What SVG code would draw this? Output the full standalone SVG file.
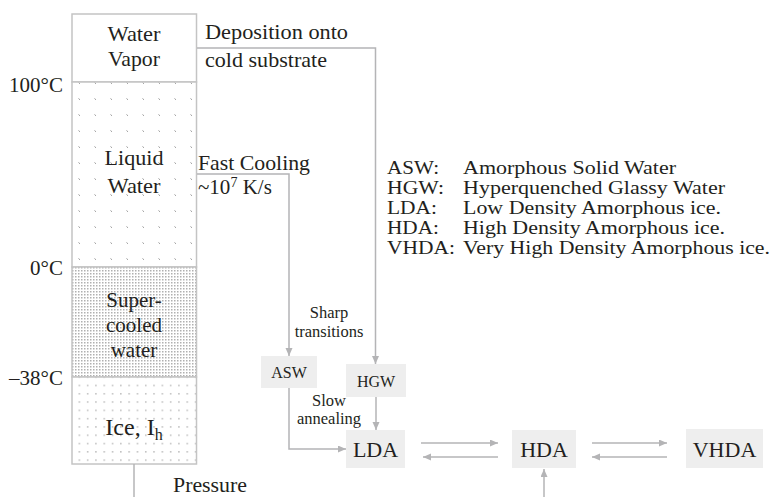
<svg xmlns="http://www.w3.org/2000/svg" width="773" height="497" viewBox="0 0 773 497">
<defs>
<style>
text{font-family:"Liberation Serif","Times New Roman",serif;fill:#231f20}
.m{font-size:21px}
.lg{font-size:19px}
.sm{font-size:16.5px}
.bx{font-size:16px;text-anchor:middle}
.bg{font-size:22px;text-anchor:middle}
.c{text-anchor:middle}
.r{text-anchor:end}
.node{fill:#eeeeee;stroke:none}
.col{stroke:#c4c4c4;stroke-width:1.5}
.con{fill:none;stroke:#b4b4b6;stroke-width:1.5}
.ar{marker-end:url(#ah)}
</style>
<marker id="ah" markerUnits="userSpaceOnUse" markerWidth="9" markerHeight="8" refX="8" refY="3.5" orient="auto">
<path d="M0,0 L8,3.5 L0,7 z" fill="#b4b4b6"/>
</marker>
<pattern id="pLiq" patternUnits="userSpaceOnUse" width="16" height="16" x="0" y="0">
<rect width="16" height="16" fill="#ffffff"/>
<path d="M14.5,2.5 L16,3.8" stroke="#9a9a9a" stroke-width="1"/>
</pattern>
<pattern id="pSup" patternUnits="userSpaceOnUse" width="3" height="3">
<rect width="3" height="3" fill="#ffffff"/>
<rect x="0" y="0" width="1.5" height="1.5" fill="#b0b0b0"/>
</pattern>
<pattern id="pIce" patternUnits="userSpaceOnUse" width="8.3" height="8.3" x="2" y="1">
<rect width="8.3" height="8.3" fill="#ffffff"/>
<rect x="2" y="2" width="1.3" height="1.3" fill="#a6a6a6"/>
</pattern>
</defs>

<g id="column">
<g id="vapor">
<rect x="72" y="14" width="124.5" height="68" fill="#ffffff" class="col"/>
<text class="m c" x="134" y="41" textLength="53" lengthAdjust="spacingAndGlyphs">Water</text>
<text class="m c" x="134" y="66" textLength="52" lengthAdjust="spacingAndGlyphs">Vapor</text>
</g>
<g id="liquid">
<rect x="72" y="82" width="124.5" height="185" fill="url(#pLiq)" class="col"/>
<text class="m c" x="134" y="165" textLength="59" lengthAdjust="spacingAndGlyphs">Liquid</text>
<text class="m c" x="134" y="193" textLength="53" lengthAdjust="spacingAndGlyphs">Water</text>
</g>
<g id="supercooled">
<rect x="72" y="267" width="124.5" height="110" fill="url(#pSup)" class="col"/>
<text class="m c" x="134" y="307">Super-</text>
<text class="m c" x="134" y="332">cooled</text>
<text class="m c" x="134" y="357">water</text>
</g>
<g id="ice">
<rect x="72" y="377" width="124.5" height="87" fill="url(#pIce)" class="col"/>
<text class="c" x="134" y="435" style="font-size:24px">Ice, I<tspan style="font-size:16px" dy="5">h</tspan></text>
</g>
</g>

<g id="temps">
<text class="m r" x="63" y="92">100°C</text>
<text class="m r" x="63" y="275">0°C</text>
<text class="m r" x="63" y="385">–38°C</text>
</g>

<g id="connectors">
<path class="con ar" d="M197,48 H375.5 V364"/>
<path class="con ar" d="M197,174 H289 V356"/>
<path class="con ar" d="M376,397 V430"/>
<path class="con ar" d="M289,388 V449 H346"/>
<path class="con ar" d="M421,443 H498"/>
<path class="con ar" d="M498,457 H423"/>
<path class="con ar" d="M592,443 H667"/>
<path class="con ar" d="M667,457 H592"/>
<path class="con ar" d="M544,497 V469"/>
<path class="con" d="M134,464 V497"/>
</g>

<g id="labels">
<text class="m" x="205" y="39" textLength="143" lengthAdjust="spacingAndGlyphs">Deposition onto</text>
<text class="m" x="205" y="67" textLength="122" lengthAdjust="spacingAndGlyphs">cold substrate</text>
<text class="m" x="198" y="170" textLength="112" lengthAdjust="spacingAndGlyphs">Fast Cooling</text>
<text class="m" x="198" y="194">~10<tspan style="font-size:14px" dy="-7">7</tspan><tspan dy="7"> K/s</tspan></text>
<text class="sm c" x="329" y="318">Sharp</text>
<text class="sm c" x="329" y="337">transitions</text>
<text class="sm c" x="329" y="406">Slow</text>
<text class="sm c" x="329" y="424">annealing</text>
<text class="m" x="173" y="492" textLength="74" lengthAdjust="spacingAndGlyphs">Pressure</text>
</g>

<g id="legend">
<text class="lg" x="387" y="174" textLength="52" lengthAdjust="spacingAndGlyphs">ASW:</text><text class="lg" x="463" y="174" textLength="213" lengthAdjust="spacingAndGlyphs">Amorphous Solid Water</text>
<text class="lg" x="387" y="194" textLength="57" lengthAdjust="spacingAndGlyphs">HGW:</text><text class="lg" x="463" y="194" textLength="262" lengthAdjust="spacingAndGlyphs">Hyperquenched Glassy Water</text>
<text class="lg" x="387" y="214" textLength="50" lengthAdjust="spacingAndGlyphs">LDA:</text><text class="lg" x="463" y="214" textLength="258" lengthAdjust="spacingAndGlyphs">Low Density Amorphous ice.</text>
<text class="lg" x="387" y="234" textLength="52" lengthAdjust="spacingAndGlyphs">HDA:</text><text class="lg" x="463" y="234" textLength="262" lengthAdjust="spacingAndGlyphs">High Density Amorphous ice.</text>
<text class="lg" x="387" y="254" textLength="68" lengthAdjust="spacingAndGlyphs">VHDA:</text><text class="lg" x="463" y="254" textLength="307" lengthAdjust="spacingAndGlyphs">Very High Density Amorphous ice.</text>
</g>

<g id="ASW">
<rect class="node" x="261" y="356" width="56" height="32"/>
<text class="bx" x="289" y="378">ASW</text>
</g>
<g id="HGW">
<rect class="node" x="346" y="364" width="60" height="33"/>
<text class="bx" x="376" y="387">HGW</text>
</g>
<g id="LDA">
<rect class="node" x="346" y="430" width="59" height="38"/>
<text class="bg" x="375.5" y="457">LDA</text>
</g>
<g id="HDA">
<rect class="node" x="512" y="430" width="64" height="38"/>
<text class="bg" x="544" y="457">HDA</text>
</g>
<g id="VHDA">
<rect class="node" x="686" y="429" width="77" height="39"/>
<text class="bg" x="724.5" y="457">VHDA</text>
</g>
</svg>
